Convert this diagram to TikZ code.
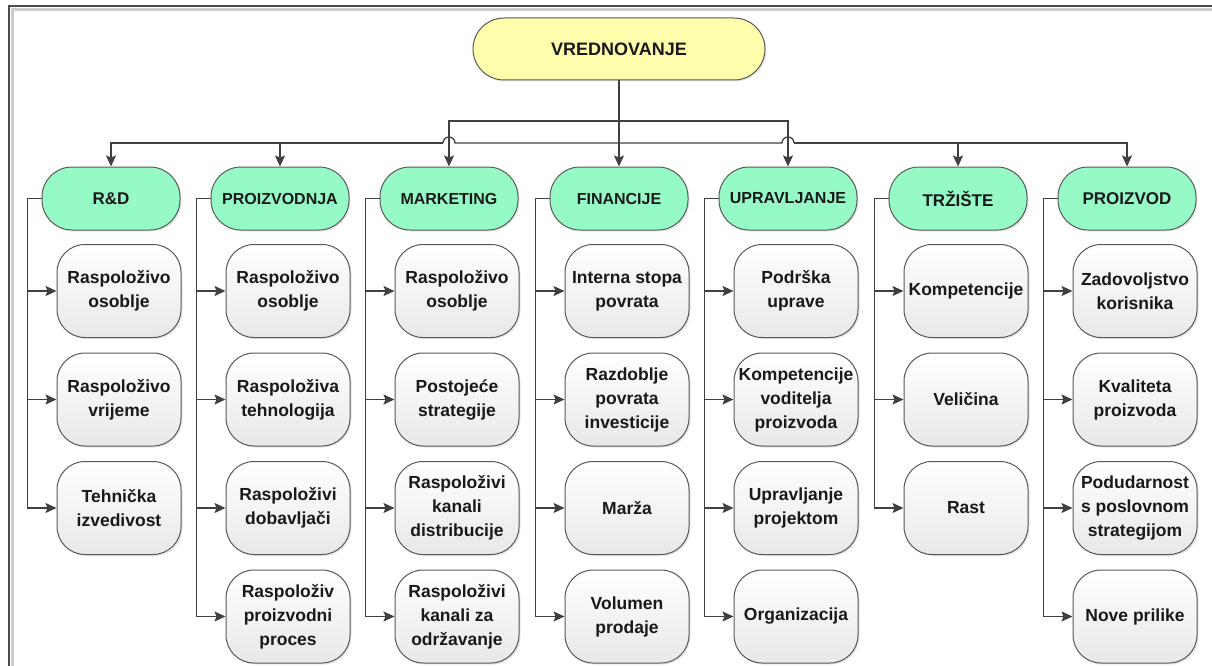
\documentclass[tikz,border=0pt]{standalone}
\usepackage{fontspec}
\setmainfont{Liberation Sans}
\usetikzlibrary{arrows.meta,calc,shadows}
\definecolor{catgreen}{RGB}{150,250,198}
\definecolor{topyellow}{RGB}{253,253,172}
\definecolor{linegray}{RGB}{64,64,64}

% one column of sub-items: #1 column node, #2 x of column, #3 texts
\newcommand{\grana}[3]{%
\foreach \t [count=\j] in {#3}{
  \node[item] (#1\j) at (#2+8,182.5+108.5*\j) {\t};
  \draw[conn] (#1.west) -- ++(-14,0) |- (#1\j);
}}

\begin{document}
\begin{tikzpicture}[x=1pt,y=-1pt,
  bus/.style={draw=linegray,line width=1.3pt},
  conn/.style={bus,-{Stealth[length=11pt,width=10pt,inset=2pt]}},
  cat/.style={draw=black!65,line width=1pt,fill=catgreen,rounded corners=30pt,
    minimum width=138pt,minimum height=63pt,inner sep=0pt,text=black!90,
    font=\fontsize{16}{19}\selectfont\bfseries,
    drop shadow={opacity=.2,shadow xshift=1.5pt,shadow yshift=-1.5pt}},
  item/.style={draw=black!65,line width=1pt,top color=white,bottom color=black!9,
    rounded corners=28pt,minimum width=124pt,minimum height=93pt,inner sep=0pt,
    align=center,text=black!90,font=\fontsize{17.5}{24}\selectfont\bfseries,
    drop shadow={opacity=.2,shadow xshift=1.5pt,shadow yshift=-1.5pt}}]
\useasboundingbox (0,0) rectangle (1212,666);
\draw[line width=3pt,black!20] (12,666) -- (12,9.5) -- (1212,9.5);
\draw[line width=2pt,black!70] (9,666) -- (9,6) -- (1212,6);

\node[cat,fill=topyellow,rounded corners=31pt,minimum width=292pt,minimum height=62pt,
  font=\fontsize{18}{20}\selectfont\bfseries] (top) at (619,49) {VREDNOVANJE};

\node[cat,font=\fontsize{17}{19}\selectfont\bfseries] (rd) at (111,198.5) {R\&D};
\node[cat] (pro) at (280,198.5)  {PROIZVODNJA};
\node[cat] (mkt) at (449,198.5)  {MARKETING};
\node[cat] (fin) at (619,198.5)  {FINANCIJE};
\node[cat] (upr) at (788,198.5)  {UPRAVLJANJE};
\node[cat,font=\fontsize{17}{19}\selectfont\bfseries] (trz) at (958,198.5) {TRŽIŠTE};
\node[cat,font=\fontsize{17}{19}\selectfont\bfseries] (prd) at (1127,198.5) {PROIZVOD};

% buses from the top
\coordinate (upbus) at (619,121);
\coordinate (lowbus) at (619,143);
\draw[conn] (top) -- (fin);
\draw[conn] (upbus) -| (mkt);
\draw[conn] (upbus) -| (upr);
\coordinate (hopMr) at ($(mkt.north |- lowbus)+(6,0)$);
\coordinate (hopMl) at ($(mkt.north |- lowbus)+(-6,0)$);
\coordinate (hopUl) at ($(upr.north |- lowbus)+(-6,0)$);
\coordinate (hopUr) at ($(upr.north |- lowbus)+(6,0)$);
\draw[bus] (lowbus) -- (hopMr) arc[start angle=0,end angle=180,radius=6pt];
\draw[bus] (lowbus) -- (hopUl) arc[start angle=180,end angle=0,radius=6pt];
\draw[conn] (hopMl) -| (rd);
\draw[conn] (hopMl) -| (pro);
\draw[conn] (hopUr) -| (trz);
\draw[conn] (hopUr) -| (prd);

\grana{rd}{111}{{Raspoloživo\\osoblje},{Raspoloživo\\vrijeme},{Tehnička\\izvedivost}}
\grana{pro}{280}{{Raspoloživo\\osoblje},{Raspoloživa\\tehnologija},{Raspoloživi\\dobavljači},{Raspoloživ\\proizvodni\\proces}}
\grana{mkt}{449}{{Raspoloživo\\osoblje},{Postojeće\\strategije},{Raspoloživi\\kanali\\distribucije},{Raspoloživi\\kanali za\\održavanje}}
\grana{fin}{619}{{Interna stopa\\povrata},{Razdoblje\\povrata\\investicije},{Marža},{Volumen\\prodaje}}
\grana{upr}{788}{{Podrška\\uprave},{Kompetencije\\voditelja\\proizvoda},{Upravljanje\\projektom},{Organizacija}}
\grana{trz}{958}{{Kompetencije},{Veličina},{Rast}}
\grana{prd}{1127}{{Zadovoljstvo\\korisnika},{Kvaliteta\\proizvoda},{Podudarnost\\s poslovnom\\strategijom},{Nove prilike}}
\end{tikzpicture}
\end{document}
